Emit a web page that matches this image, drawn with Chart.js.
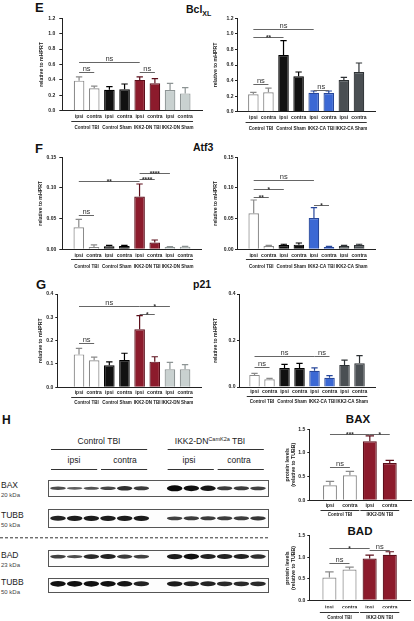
<!DOCTYPE html>
<html>
<head>
<meta charset="utf-8">
<script src="https://cdn.jsdelivr.net/npm/chart.js@4.4.1/dist/chart.umd.min.js"></script>
<style>
  body { margin: 0; background: #fff; }
  #fig { position: relative; width: 414px; height: 621px; overflow: hidden; font-family: "Liberation Sans", Arial, sans-serif; color: #111; }
  #fig canvas { position: absolute; }
  .t { position: absolute; white-space: nowrap; line-height: 1; }
  .letter { font-weight: bold; font-size: 13px; }
  .title { font-weight: bold; font-size: 10.5px; }
  .title sub { font-size: 7px; vertical-align: -3px; }
  .ptitle { font-weight: bold; font-size: 11.5px; transform: translateX(-50%); }
  .blot { font-size: 8.5px; color: #222; transform: translateX(-50%); }
  .blot sup { font-size: 5.5px; vertical-align: 3px; }
  .row { font-size: 8.5px; color: #222; }
  .kda { font-size: 6px; color: #444; }
</style>
</head>
<body>
<div id="fig">
  <div class="t letter" style="left:35px;top:1px">E</div>
  <div class="t letter" style="left:35px;top:142px">F</div>
  <div class="t letter" style="left:36px;top:278px">G</div>
  <div class="t letter" style="left:2px;top:414px;font-size:12px">H</div>

  <div class="t title" style="left:186px;top:4px">Bcl<sub>XL</sub></div>
  <div class="t title" style="left:193px;top:142px">Atf3</div>
  <div class="t title" style="left:193px;top:279px">p21</div>
  <div class="t ptitle" style="left:358px;top:414px">BAX</div>
  <div class="t ptitle" style="left:360px;top:525.5px">BAD</div>

  <div class="t blot" style="left:99px;top:437px">Control TBI</div>
  <div class="t blot" style="left:210px;top:437px">IKK2-DN<sup>CamK2a</sup> TBI</div>
  <div class="t blot" style="left:74px;top:456px">ipsi</div>
  <div class="t blot" style="left:125px;top:456px">contra</div>
  <div class="t blot" style="left:189px;top:456px">ipsi</div>
  <div class="t blot" style="left:239px;top:456px">contra</div>

  <div class="t row" style="left:1px;top:481px">BAX</div>
  <div class="t kda" style="left:1px;top:491.5px">20 kDa</div>
  <div class="t row" style="left:1px;top:511px">TUBB</div>
  <div class="t kda" style="left:1px;top:522px">50 kDa</div>
  <div class="t row" style="left:1px;top:551px">BAD</div>
  <div class="t kda" style="left:1px;top:562px">23 kDa</div>
  <div class="t row" style="left:1px;top:577.5px">TUBB</div>
  <div class="t kda" style="left:1px;top:588.5px">50 kDa</div>
</div>

<script>
// ---- data ----
const pairLabels = ['ipsi', 'contra', 'ipsi', 'contra', 'ipsi', 'contra', 'ipsi', 'contra'];
const dnGroups = ['Control TBI', 'Control Sham', 'IKK2-DN TBI', 'IKK2-DN Sham'];
const caGroups = ['Control TBI', 'Control Sham', 'IKK2-CA TBI', 'IKK2-CA Sham'];
const westernLabels = ['ipsi', 'contra', 'ipsi', 'contra'];
const westernGroups = ['Control TBI', 'IKK2-DN TBI'];

const bclTicks = ['0.0', '0.2', '0.4', '0.6', '0.8', '1.0', '1.2'];
const atfTicks = ['0.00', '0.05', '0.10', '0.15'];
const p21DnTicks = ['0.0', '0.1', '0.2', '0.3', '0.4'];
const p21CaTicks = ['0.0', '0.2', '0.4'];
const proteinTicks = ['0.0', '0.5', '1.0', '1.5'];

const bclDnMean = [0.39, 0.29, 0.273, 0.277, 0.40, 0.355, 0.268, 0.225];
const bclDnSem  = [0.05, 0.03, 0.04, 0.07, 0.04, 0.062, 0.087, 0.075];
const bclDnSig  = [[0, 1, 0.507, 'ns'], [0, 4, 0.633, 'ns'], [4, 5, 0.507, 'ns']];

const bclCaMean = [0.223, 0.249, 0.729, 0.454, 0.244, 0.24, 0.407, 0.51];
const bclCaSem  = [0.026, 0.055, 0.184, 0.056, 0.022, 0.026, 0.034, 0.116];
const bclCaSig  = [[0, 4, 1.059, 'ns'], [0, 2, 0.964, '**'], [0, 1, 0.356, 'ns'], [4, 5, 0.279, 'ns']];

const atfDnMean = [0.0359, 0.0038, 0.0049, 0.0054, 0.0859, 0.0109, 0.0038, 0.0043];
const atfDnSem  = [0.013, 0.0033, 0.0016, 0.0011, 0.0206, 0.0043, 0.0005, 0.0006];
const atfDnSig  = [[0, 1, 0.056, 'ns'], [0, 4, 0.112, '**'], [4, 5, 0.114, '****'], [4, 6, 0.124, '****']];

const atfCaMean = [0.0587, 0.0054, 0.0071, 0.0076, 0.0511, 0.0038, 0.0054, 0.0071];
const atfCaSem  = [0.0217, 0.0011, 0.0011, 0.0027, 0.0169, 0.0011, 0.0011, 0.0011];
const atfCaSig  = [[0, 4, 0.113, 'ns'], [0, 2, 0.098, '*'], [0, 1, 0.086, '**'], [4, 5, 0.073, '*']];

const p21DnMean = [0.141, 0.116, 0.094, 0.117, 0.249, 0.11, 0.077, 0.077];
const p21DnSem  = [0.026, 0.013, 0.015, 0.029, 0.058, 0.021, 0.03, 0.02];
const p21DnSig  = [[0, 1, 0.189, 'ns'], [0, 4, 0.349, 'ns'], [4, 6, 0.349, '*'], [4, 5, 0.313, '*']];

const p21CaMean = [0.052, 0.033, 0.082, 0.082, 0.07, 0.04, 0.095, 0.102];
const p21CaSem  = [0.007, 0.004, 0.015, 0.02, 0.012, 0.009, 0.021, 0.033];
const p21CaSig  = [[0, 1, 0.085, 'ns'], [0, 4, 0.133, 'ns'], [4, 5, 0.133, 'ns']];

const baxMean = [0.317, 0.528, 1.246, 0.789];
const baxSem  = [0.084, 0.085, 0.113, 0.056];
const baxSig  = [[0, 1, 0.711, 'ns'], [0, 2, 1.394, '***'], [2, 3, 1.394, '*']];

const badMean = [0.528, 0.715, 0.971, 1.057];
const badSem  = [0.132, 0.054, 0.078, 0.07];
const badSig  = [[0, 1, 0.855, 'ns'], [0, 2, 1.204, '*'], [2, 3, 1.166, 'ns']];

// western blot band strength per lane (6 Control TBI, then 6 IKK2-DN TBI)
const baxBands   = [0.45, 0.3, 0.4, 0.5, 0.7, 0.6, 1.0, 0.95, 0.9, 0.6, 0.6, 0.55];
const tubbBands1 = [0.8, 0.85, 0.85, 0.85, 0.85, 0.85, 0.55, 0.6, 0.6, 0.6, 0.6, 0.65];
const badBands   = [0.55, 0.45, 0.75, 0.8, 0.6, 0.55, 0.85, 0.95, 0.8, 0.8, 0.8, 0.7];
const tubbBands2 = [0.95, 0.95, 0.95, 0.95, 0.9, 0.8, 0.85, 0.8, 0.8, 0.75, 0.75, 0.75];

// ---- styles ----
const WHITE = '#ffffff', BLACK = '#111111', RED = '#8c1b2c', GREY = '#c9d1d0', BLUE = '#3b68d4', DARK = '#4a4f53';
const pairs = c => c.flatMap(x => [x, x]);
const dnFill = pairs([WHITE, BLACK, RED, GREY]);
const dnEdge = pairs(['#8a8a8a', '#000000', '#5c0f1b', '#8d9494']);
const caFill = pairs([WHITE, BLACK, BLUE, DARK]);
const caEdge = pairs(['#8a8a8a', '#000000', '#27479a', '#2e3235']);
const wbFill = pairs([WHITE, RED]);
const wbEdge = pairs(['#8a8a8a', '#5c0f1b']);

const FONT = '"Liberation Sans", Arial, sans-serif';
Chart.defaults.font.family = FONT;

// page-pixel layout of each plot: box = canvas, x0/x1/y0/y1 = axis frame, c0/cN = first/last bar centre
const LAY = {
  bclDn: { box: [0, 0, 207, 137], axisLeft: 37.5, x0: 62.3, x1: 202, c0: 71.5, cN: 192.8, y0: 18.3, y1: 110.7, tl: 3, tp: 4, xp: 3, line: 10, lab: 17 },
  bclCa: { box: [207, 0, 207, 137], axisLeft: 211.5, x0: 237, x1: 375.3, c0: 245.8, cN: 366.5, y0: 18.3, y1: 111.7, tl: 2, tp: 1.5, xp: 3, line: 10, lab: 17 },
  atfDn: { box: [0, 138, 207, 137], axisLeft: 37, x0: 62.3, x1: 201.7, c0: 71.2, cN: 192.7, y0: 157.3, y1: 249.3, tl: 3, tp: 3, xp: 3.7, line: 10, lab: 17.4 },
  atfCa: { box: [207, 138, 207, 137], axisLeft: 212, x0: 237, x1: 375.3, c0: 246.2, cN: 366.7, y0: 157.3, y1: 249.3, tl: 2, tp: 1.5, xp: 3.7, line: 10, lab: 17.4 },
  p21Dn: { box: [0, 276, 207, 133], axisLeft: 36.5, x0: 57.3, x1: 201.7, c0: 71.8, cN: 193, y0: 294, y1: 387.3, tl: 2, tp: 2, xp: 2, line: 9.4, lab: 15 },
  p21Ca: { box: [207, 276, 207, 133], axisLeft: 211.5, x0: 239, x1: 375.3, c0: 247, cN: 367, y0: 294, y1: 387, tl: 2, tp: 1.5, xp: 2, line: 9.4, lab: 15 },
  bax:   { box: [280, 410, 134, 110], axisLeft: 283.8, x0: 309.3, x1: 411.7, c0: 319.8, cN: 399.5, y0: 429.3, y1: 500.3, tl: 2, tp: 2, xp: 2.7, line: 9.7, lab: 14 },
  bad:   { box: [280, 522, 134, 99], axisLeft: 283.8, x0: 309.3, x1: 410.7, c0: 319.2, cN: 399.7, y0: 535.7, y1: 600.3, tl: 2, tp: 2, xp: 4, line: 12, lab: 17.4 }
};

function barPanel(key, d) {
  const L = LAY[key];
  const [bl, bt, bw, bh] = L.box;
  const cv = document.createElement('canvas');
  cv.width = bw; cv.height = bh;
  cv.style.left = bl + 'px'; cv.style.top = bt + 'px';
  document.getElementById('fig').appendChild(cv);

  const n = d.values.length;
  const u = (L.cN - L.c0) / (n - 1);
  const HX = 8;
  const yVals = d.yTicks.map(Number);

  const deco = {
    id: 'deco',
    afterDatasetsDraw(chart) {
      const ctx = chart.ctx, y = chart.scales.y;
      const bars = chart.getDatasetMeta(0).data;
      ctx.save();
      // error bars, upper half only
      bars.forEach((b, i) => {
        const top = y.getPixelForValue(d.values[i] + d.errors[i]);
        const cap = b.width * 0.3;
        ctx.strokeStyle = d.edge[i];
        ctx.lineWidth = 1.2;
        ctx.beginPath();
        ctx.moveTo(b.x, b.y); ctx.lineTo(b.x, top);
        ctx.moveTo(b.x - cap, top); ctx.lineTo(b.x + cap, top);
        ctx.stroke();
      });
      ctx.lineWidth = 1;
      // significance brackets
      ctx.textAlign = 'center';
      d.sig.forEach(([i, j, v, txt]) => {
        const yy = Math.round(y.getPixelForValue(v)) + 0.5;
        ctx.strokeStyle = '#666';
        ctx.beginPath(); ctx.moveTo(bars[i].x, yy); ctx.lineTo(bars[j].x, yy); ctx.stroke();
        ctx.fillStyle = '#333';
        const star = txt.includes('*');
        ctx.font = (star ? 'bold 6.5px ' : '7.5px ') + FONT;
        ctx.textBaseline = 'alphabetic';
        ctx.fillText(txt, (bars[i].x + bars[j].x) / 2, star ? yy + 2.2 : yy - 1.5);
      });
      // group brackets under the ipsi/contra labels
      const base = chart.chartArea.bottom;
      ctx.font = 'bold 4.5px ' + FONT;
      ctx.textBaseline = 'middle';
      d.groups.forEach((g, k) => {
        const a = bars[2 * k], b = bars[2 * k + 1];
        const xa = a.x - a.width / 2 - 2.5, xb = b.x + b.width / 2 + 2.5;
        const ly = Math.round(base + L.line) + 0.5;
        ctx.strokeStyle = '#333';
        ctx.beginPath(); ctx.moveTo(xa, ly); ctx.lineTo(xb, ly); ctx.stroke();
        ctx.fillStyle = '#222';
        ctx.fillText(g, (xa + xb) / 2, base + L.lab);
      });
      ctx.restore();
    }
  };

  return new Chart(cv, {
    type: 'bar',
    data: {
      datasets: [{
        data: d.values.map((v, i) => ({ x: i, y: v })),
        backgroundColor: d.fill,
        borderColor: d.edge,
        borderWidth: 1.2,
        barPercentage: 0.7,
        categoryPercentage: 1
      }]
    },
    options: {
      responsive: false,
      animation: false,
      events: [],
      layout: {
        padding: {
          left: L.axisLeft - bl,
          right: bl + bw - L.x1,
          top: L.y0 - bt,
          bottom: bt + bh - L.y1 - HX
        }
      },
      plugins: { legend: { display: false }, tooltip: { enabled: false } },
      scales: {
        x: {
          type: 'linear',
          min: -(L.c0 - L.x0) / u,
          max: (n - 1) + (L.x1 - L.cN) / u,
          afterBuildTicks: s => { s.ticks = d.labels.map((_, i) => ({ value: i })); },
          afterTickToLabelConversion: s => { s.ticks.forEach((t, i) => { t.label = d.labels[i]; }); },
          afterFit: s => { s.height = HX; },
          grid: { display: true, drawOnChartArea: false, drawTicks: false },
          border: { color: '#222', width: 1 },
          ticks: { autoSkip: false, maxRotation: 0, padding: L.xp, color: '#222', font: { size: 5, weight: 'bold' } }
        },
        y: {
          min: yVals[0],
          max: yVals[yVals.length - 1],
          afterBuildTicks: s => { s.ticks = yVals.map(v => ({ value: v })); },
          afterTickToLabelConversion: s => { s.ticks.forEach((t, i) => { t.label = d.yTicks[i]; }); },
          afterFit: s => { s.width = L.x0 - L.axisLeft; },
          grid: { drawOnChartArea: false, drawTicks: true, tickLength: L.tl, color: '#222' },
          border: { color: '#222', width: 1 },
          ticks: { padding: L.tp, color: '#222', font: { size: 5, weight: 'bold' } },
          title: {
            display: true,
            text: d.yTitle,
            color: '#222',
            padding: { top: 1, bottom: 0 },
            font: { size: 5.2, weight: 'bold', lineHeight: 1.1 }
          }
        }
      }
    },
    plugins: [deco]
  });
}

const rel = 'relative to mHPRT';
const prot = ['protein levels', '(relative to TUBB)'];

barPanel('bclDn', { labels: pairLabels, groups: dnGroups, values: bclDnMean, errors: bclDnSem, sig: bclDnSig, yTicks: bclTicks, fill: dnFill, edge: dnEdge, yTitle: rel });
barPanel('bclCa', { labels: pairLabels, groups: caGroups, values: bclCaMean, errors: bclCaSem, sig: bclCaSig, yTicks: bclTicks, fill: caFill, edge: caEdge, yTitle: rel });
barPanel('atfDn', { labels: pairLabels, groups: dnGroups, values: atfDnMean, errors: atfDnSem, sig: atfDnSig, yTicks: atfTicks, fill: dnFill, edge: dnEdge, yTitle: rel });
barPanel('atfCa', { labels: pairLabels, groups: caGroups, values: atfCaMean, errors: atfCaSem, sig: atfCaSig, yTicks: atfTicks, fill: caFill, edge: caEdge, yTitle: rel });
barPanel('p21Dn', { labels: pairLabels, groups: dnGroups, values: p21DnMean, errors: p21DnSem, sig: p21DnSig, yTicks: p21DnTicks, fill: dnFill, edge: dnEdge, yTitle: rel });
barPanel('p21Ca', { labels: pairLabels, groups: caGroups, values: p21CaMean, errors: p21CaSem, sig: p21CaSig, yTicks: p21CaTicks, fill: caFill, edge: caEdge, yTitle: rel });
barPanel('bax', { labels: westernLabels, groups: westernGroups, values: baxMean, errors: baxSem, sig: baxSig, yTicks: proteinTicks, fill: wbFill, edge: wbEdge, yTitle: prot });
barPanel('bad', { labels: westernLabels, groups: westernGroups, values: badMean, errors: badSem, sig: badSig, yTicks: proteinTicks, fill: wbFill, edge: wbEdge, yTitle: prot });

// ---- western blot strip, lanes placed on a linear x scale ----
const blotTop = 430;
const lanes = [0, 1, 2, 3, 4, 5, 7, 8, 9, 10, 11, 12];
const blotRows = [
  { bands: baxBands, top: 480, h: 16, mid: 488.3 },
  { bands: tubbBands1, top: 509.3, h: 18.4, mid: 518.3 },
  { bands: badBands, top: 550, h: 15.7, mid: 556.6 },
  { bands: tubbBands2, top: 577.7, h: 14, mid: 583.8 }
];
const headerLines = [
  { from: 0, to: 5, y: 449.3 }, { from: 7, to: 12, y: 449.3 },
  { from: 0, to: 2, y: 469 }, { from: 3, to: 5, y: 469 },
  { from: 7, to: 9, y: 469 }, { from: 10, to: 12, y: 469 }
];

const blotCanvas = document.createElement('canvas');
blotCanvas.width = 275; blotCanvas.height = 172;
blotCanvas.style.left = '0px'; blotCanvas.style.top = blotTop + 'px';
document.getElementById('fig').appendChild(blotCanvas);

const blotDraw = {
  id: 'blot',
  afterDraw(chart) {
    const ctx = chart.ctx, x = chart.scales.x;
    ctx.save();
    ctx.lineWidth = 1;
    ctx.strokeStyle = '#333';
    headerLines.forEach(h => {
      const y = Math.round(h.y - blotTop) + 0.5;
      ctx.beginPath();
      ctx.moveTo(x.getPixelForValue(h.from - 0.42), y);
      ctx.lineTo(x.getPixelForValue(h.to + 0.35), y);
      ctx.stroke();
    });
    // dashed separator
    ctx.setLineDash([3, 2]);
    ctx.beginPath(); ctx.moveTo(0, 107.8); ctx.lineTo(270, 107.8); ctx.stroke();
    ctx.setLineDash([]);
    const left = x.getPixelForValue(-0.58), right = x.getPixelForValue(12.62);
    blotRows.forEach(r => {
      ctx.fillStyle = '#fdfdfd';
      ctx.strokeStyle = '#555';
      ctx.fillRect(left, r.top - blotTop, right - left, r.h);
      ctx.strokeRect(Math.round(left) + 0.5, Math.round(r.top - blotTop) + 0.5, Math.round(right - left), Math.round(r.h));
      ctx.save();
      ctx.filter = 'blur(0.45px)';
      r.bands.forEach((s, k) => {
        const cx = x.getPixelForValue(lanes[k]);
        const ry = (1.3 + 4.6 * s) / 2;
        ctx.fillStyle = `rgba(10,10,10,${0.5 + 0.5 * s})`;
        ctx.beginPath();
        ctx.ellipse(cx, r.mid - blotTop, 7.8, ry, 0, 0, Math.PI * 2);
        ctx.fill();
      });
      ctx.restore();
    });
    ctx.restore();
  }
};

new Chart(blotCanvas, {
  type: 'scatter',
  data: { datasets: [] },
  options: {
    responsive: false,
    animation: false,
    events: [],
    plugins: { legend: { display: false }, tooltip: { enabled: false } },
    scales: {
      x: { type: 'linear', min: -3.48, max: 13.02, display: false },
      y: { type: 'linear', min: 0, max: 1, display: false }
    }
  },
  plugins: [blotDraw]
});
</script>
</body>
</html>
